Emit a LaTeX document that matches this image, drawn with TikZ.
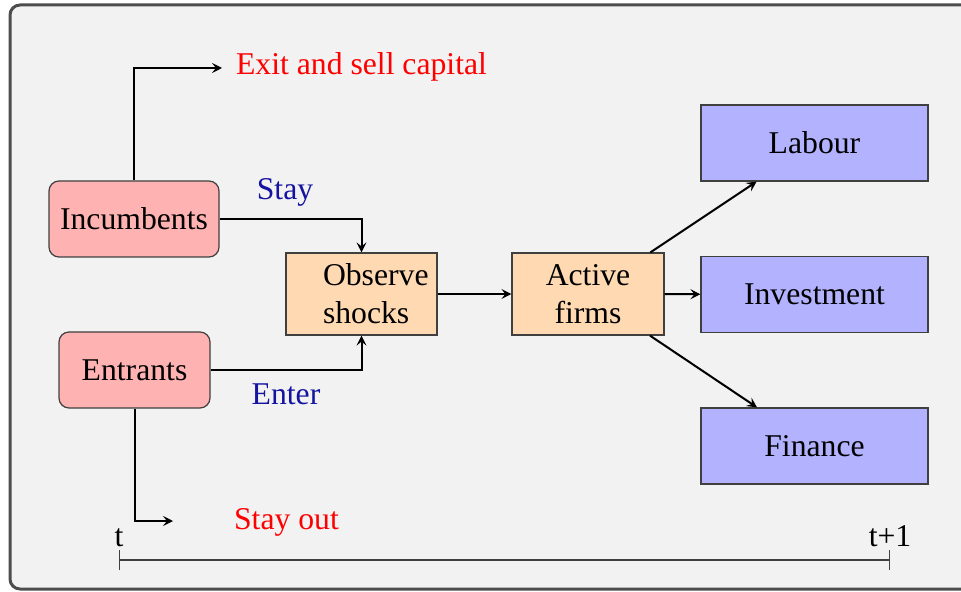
\documentclass[tikz,border=0pt]{standalone}
\usepackage{fontspec}
\setmainfont{Liberation Serif}
\usetikzlibrary{arrows.meta}
\definecolor{framegray}{RGB}{77,77,77}
\definecolor{panel}{RGB}{242,242,242}
\definecolor{labelblue}{RGB}{20,20,160}
\tikzset{
  every node/.style={font=\fontsize{15.85pt}{19pt}\selectfont},
  box/.style={draw=black!75, line width=0.6pt, inner sep=0pt},
  agent/.style={box, fill=red!30, rounded corners=5pt, minimum height=38pt},
  stage/.style={box, fill=orange!30, minimum width=75.5pt, minimum height=41pt},
  outcome/.style={box, fill=blue!30, minimum width=113.5pt, minimum height=38pt},
  flow/.style={line width=1pt, -{Stealth[length=5pt,width=5pt,inset=2pt]}},
  redlabel/.style={text=red, anchor=base},
  bluelabel/.style={text=labelblue, anchor=base},
}
\begin{document}
\begin{tikzpicture}[x=0.5pt, y=-0.5pt]
  % canvas and rounded panel
  \useasboundingbox (0,0) rectangle (961,592);
  \draw[framegray, line width=1.5pt, fill=panel, rounded corners=5pt] (10,5) rectangle (985,589);

  % decision makers
  \node[agent, minimum width=85pt] (inc) at (134,219) {Incumbents};
  \node[agent, minimum width=75.5pt] (ent) at (134.5,370) {Entrants};

  % intermediate stages
  \node[stage, text width=38.5pt, inner xsep=18.5pt, align=left, minimum width=0pt] (obs) at (361.5,294) {Observe\\shocks};
  \node[stage, align=center, minimum width=76pt] (act) at (588,294) {Active\\firms};

  % outcomes
  \node[outcome] (lab) at (814.5,143) {Labour};
  \node[outcome] (inv) at (814.5,294.5) {Investment};
  \node[outcome] (fin) at (814.5,446) {Finance};

  % free ends of the exit branches
  \coordinate (exitend) at (222,68);
  \coordinate (outend) at (173,521);

  % flows
  \draw[flow] (inc.north) |- (exitend);
  \draw[flow] (inc.east) -| (obs.north);
  \draw[flow] (ent.east) -| (obs.south);
  \draw[flow] (ent.south) |- (outend);
  \draw[flow] (obs) -- (act);
  \draw[flow] (act) -- (inv);
  \draw[flow] (act) -- (lab);
  \draw[flow] (act) -- (fin);

  % branch labels
  \node[redlabel, anchor=base west] (exitlbl) at (229,75) {Exit and sell capital};
  \node[bluelabel] (staylbl) at (285,200) {Stay};
  \node[bluelabel] (enterlbl) at (286,404) {Enter};
  \node[redlabel] (outlbl) at (286.5,529) {Stay out};

  % time axis
  \coordinate (t0) at (119,560);
  \coordinate (t1) at (890,560);
  \draw[black!75, line width=0.6pt, {Bar[width=10pt]}-{Bar[width=10pt]}] (t0) -- (t1);
  \node[anchor=base] (tlbl) at (119,546) {t};
  \node[anchor=base] (t1lbl) at (890,546) {t+1};
\end{tikzpicture}
\end{document}
